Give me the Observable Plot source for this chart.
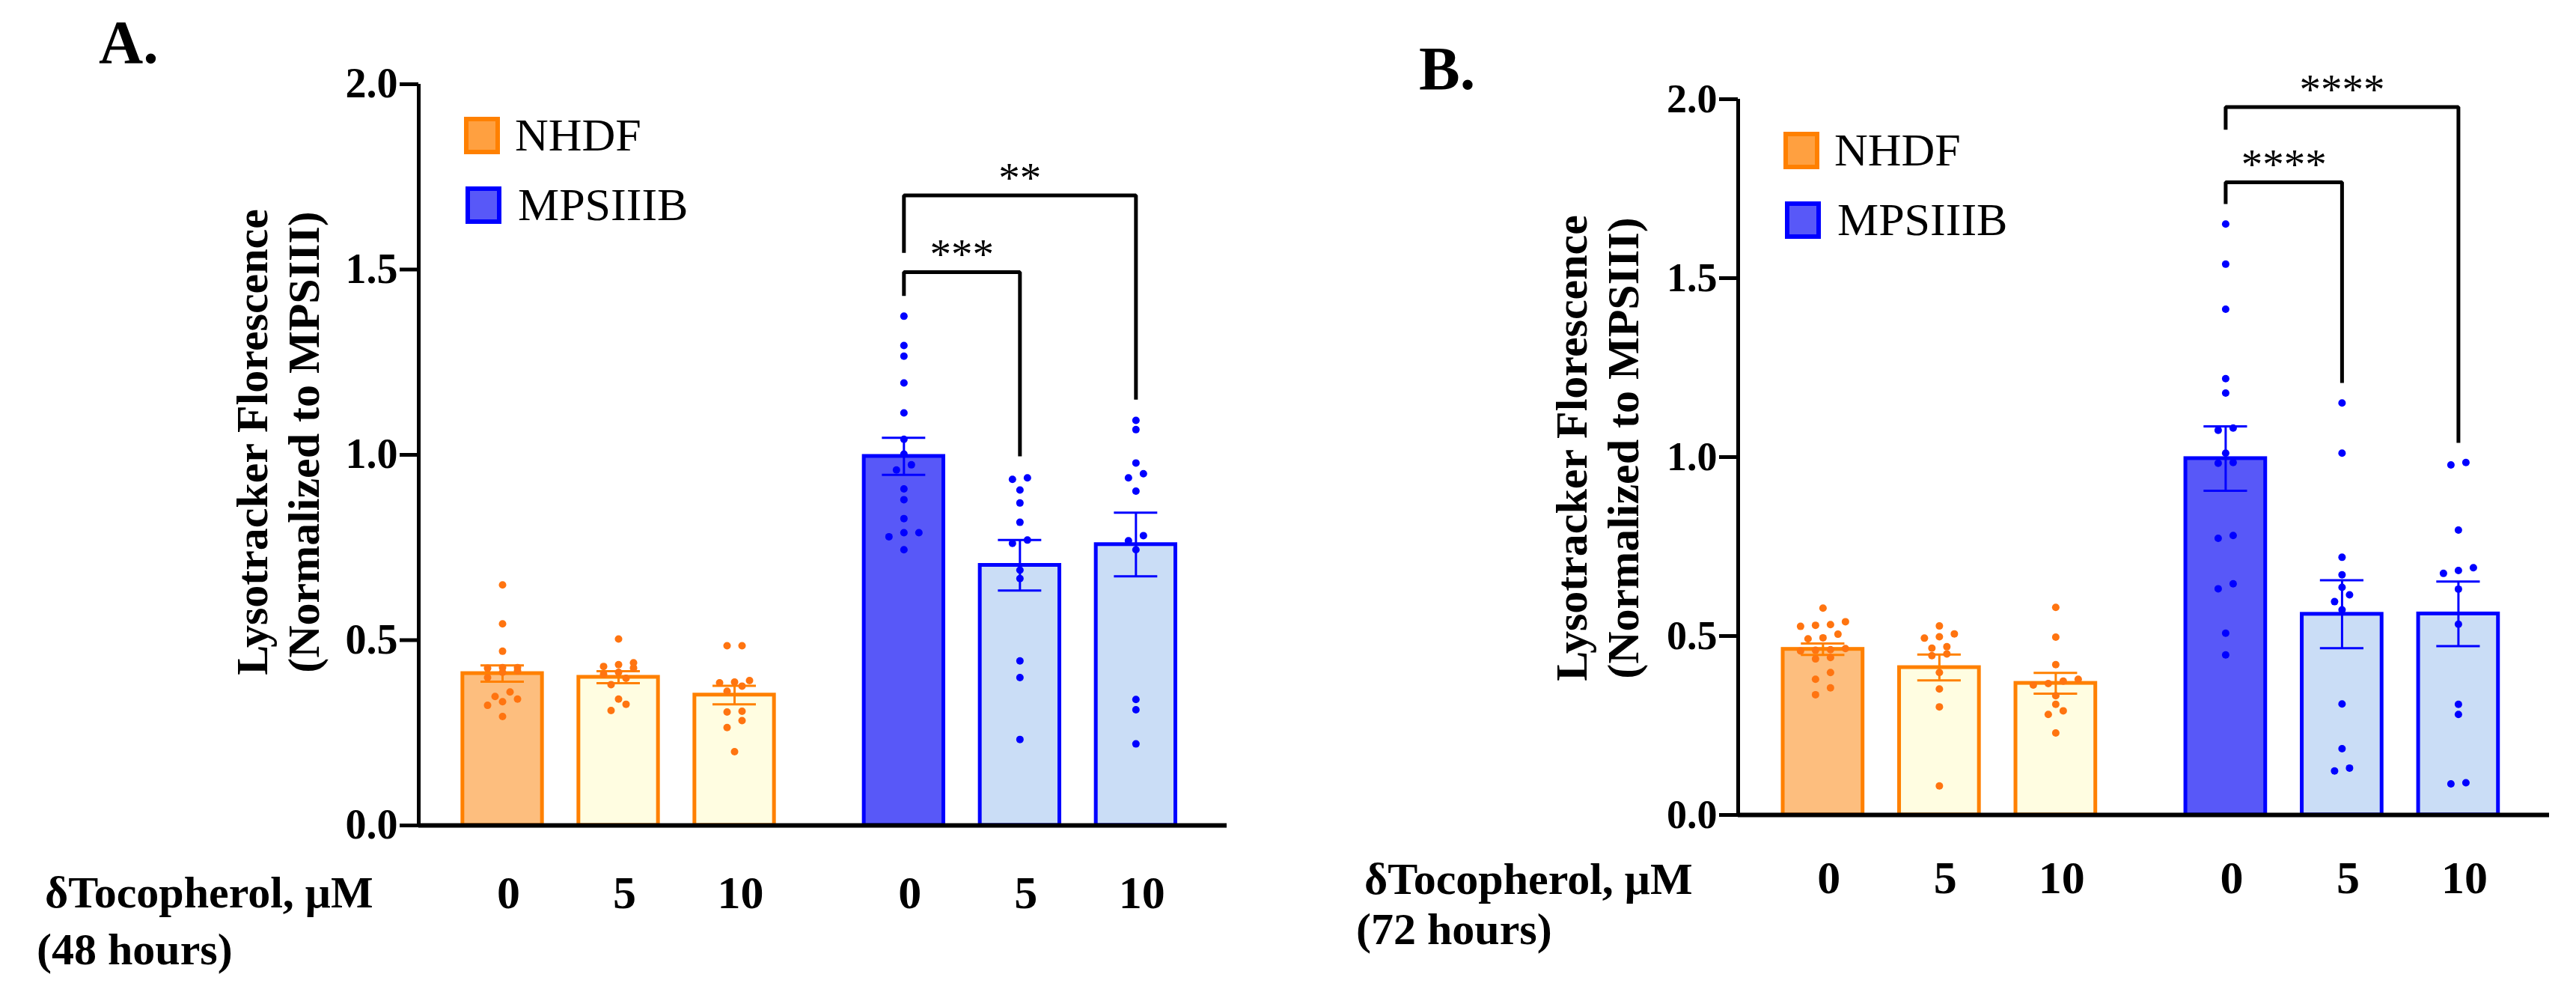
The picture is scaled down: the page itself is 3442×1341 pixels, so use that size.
<!DOCTYPE html>
<html>
<head>
<meta charset="utf-8">
<script src="https://cdn.jsdelivr.net/npm/d3@7"></script>
<script src="https://cdn.jsdelivr.net/npm/@observablehq/plot@0.6"></script>
<style>
  body { margin: 0; background: #fff; }
  #figure { position: relative; width: 3442px; height: 1341px; background: #fff;
            font-family: "Liberation Serif", "Times New Roman", serif; }
  .panel { position: absolute; top: 0; width: 1721px; height: 1341px; }
  .panel svg { position: absolute; left: 0; top: 0; }
  .abs { position: absolute; white-space: nowrap; color: #000; }
  .swatch { position: absolute; box-sizing: border-box; width: 48px; height: 50px; border: 6px solid; }
</style>
</head>
<body>
<div id="figure"></div>
<script>
// ---- shared categories and labels ----
const cellLines = ["NHDF", "MPSIIIB"];
const doses = ["0", "5", "10"];
const yTicks = [0, 0.5, 1.0, 1.5, 2.0];
const yTitle = "Lysotracker Florescence\n(Normalized to MPSIII)";
const treatmentLabel = "δTocopherol, μM";

// ---- panel A: 48 hours (bar order: NHDF 0,5,10 then MPSIIIB 0,5,10) ----
const mean48 = [0.410, 0.400, 0.352, 0.996, 0.702, 0.758];
const sem48  = [0.022, 0.016, 0.025, 0.050, 0.068, 0.086];
const nhdf48_0  = [0.649, 0.544, 0.470, 0.426, 0.426, 0.413, 0.424, 0.417, 0.399, 0.341, 0.348, 0.360, 0.324, 0.334, 0.294];
const nhdf48_5  = [0.503, 0.434, 0.439, 0.425, 0.429, 0.408, 0.413, 0.397, 0.380, 0.341, 0.327, 0.310];
const nhdf48_10 = [0.485, 0.485, 0.391, 0.376, 0.385, 0.387, 0.362, 0.308, 0.306, 0.283, 0.264, 0.199];
const mps48_0   = [1.374, 1.295, 1.266, 1.194, 1.113, 1.042, 1.002, 0.973, 0.959, 0.908, 0.879, 0.828, 0.790, 0.790, 0.779, 0.744];
const mps48_5   = [0.938, 0.934, 0.905, 0.870, 0.818, 0.770, 0.761, 0.689, 0.666, 0.444, 0.399, 0.232];
const mps48_10  = [1.093, 1.068, 0.978, 0.938, 0.949, 0.902, 0.768, 0.782, 0.744, 0.340, 0.312, 0.220];
// significance vs MPSIIIB 0 µM
const sig48Label = ["***", "**"];
const sig48To    = ["5", "10"];
const sig48Top   = [1.493, 1.700];
const sig48FromEnd = [1.429, 1.545];
const sig48ToEnd   = [0.996, 1.149];

// ---- panel B: 72 hours ----
const mean72 = [0.463, 0.412, 0.368, 0.996, 0.561, 0.562];
const sem72  = [0.016, 0.036, 0.029, 0.090, 0.095, 0.090];
const nhdf72_0  = [0.578, 0.540, 0.530, 0.532, 0.527, 0.492, 0.495, 0.505, 0.462, 0.458, 0.465, 0.460, 0.436, 0.440, 0.398, 0.379, 0.355, 0.336];
const nhdf72_5  = [0.528, 0.506, 0.494, 0.498, 0.470, 0.466, 0.450, 0.445, 0.398, 0.352, 0.302, 0.081];
const nhdf72_10 = [0.580, 0.497, 0.420, 0.374, 0.363, 0.367, 0.379, 0.333, 0.309, 0.291, 0.281, 0.229];
const mps72_0   = [1.651, 1.539, 1.413, 1.219, 1.179, 1.075, 1.081, 1.011, 0.983, 0.985, 0.773, 0.781, 0.632, 0.646, 0.508, 0.447];
const mps72_5   = [1.151, 1.011, 0.720, 0.671, 0.636, 0.615, 0.596, 0.573, 0.310, 0.185, 0.123, 0.131];
const mps72_10  = [0.985, 0.978, 0.796, 0.683, 0.675, 0.691, 0.631, 0.533, 0.309, 0.281, 0.087, 0.090];
const sig72Label = ["****", "****"];
const sig72To    = ["5", "10"];
const sig72Top   = [1.768, 1.978];
const sig72FromEnd = [1.707, 1.915];
const sig72ToEnd   = [1.207, 1.040];

// ---- styling ----
const SERIF = '"Liberation Serif", "Times New Roman", serif';
const ORANGE = "#FF8000", BLUE = "#0000FF";
const lineColor = cell => cell === "NHDF" ? ORANGE : BLUE;
const dotColor = cell => cell === "NHDF" ? "#FF7410" : BLUE;
const barFill = (cell, dose) => cell === "NHDF"
  ? (dose === "0" ? "#FDBE7E" : "#FFFDE1")
  : (dose === "0" ? "#5858F8" : "#CADDF6");
const GROUP_STEP = 3.46;   // distance between the first bars of the two cell lines (in bar steps)
const BAR_HALF = 0.343;    // half bar width, in bar steps
const CAP_HALF = 0.187;    // half error-cap width, in bar steps

// Symmetric dot swarm: values close in y share a row and are spread around the bar centre.
function swarm(values, pxPerY, spacingPx = 20, tolPx = 10) {
  const sorted = values.slice().sort((a, b) => a - b);
  const out = [];
  let row = [];
  const flush = () => {
    row.forEach((v, k) => out.push({v, offPx: (k - (row.length - 1) / 2) * spacingPx}));
    row = [];
  };
  for (const v of sorted) {
    if (row.length && (v - row[0]) * pxPerY > tolPx) flush();
    row.push(v);
  }
  flush();
  return out;
}

function textAt(parent, text, {left, baseline, size, weight = "bold"}) {
  const el = document.createElement("div");
  el.className = "abs";
  el.textContent = text;
  Object.assign(el.style, {
    left: left + "px", top: (baseline - 0.8375 * size) + "px",
    fontSize: size + "px", lineHeight: size + "px", fontWeight: weight, fontFamily: SERIF
  });
  parent.appendChild(el);
}

function drawPanel(cfg) {
  const W = 1721, H = 1341;
  const {mL, mR, mT, mB, xDomain} = cfg;
  const pxPerY = (H - mT - mB) / 2;
  const pxPerX = (W - mL - mR) / (xDomain[1] - xDomain[0]);
  const posOf = (g, d) => g * GROUP_STEP + d;

  const bars = [];
  cellLines.forEach((cell, g) => doses.forEach((dose, d) => {
    const i = g * doses.length + d;
    bars.push({cell, dose, pos: posOf(g, d), mean: cfg.means[i], sem: cfg.sems[i], pts: cfg.points[i]});
  }));

  const dots = bars.flatMap(b => swarm(b.pts, pxPerY).map(p => ({cell: b.cell, y: p.v, x: b.pos + p.offPx / pxPerX})));

  const mpsPos = dose => bars.find(b => b.cell === "MPSIIIB" && b.dose === dose).pos;
  const sig = cfg.sigLabel.map((label, k) => ({
    id: k, label, from: mpsPos("0"), to: mpsPos(cfg.sigTo[k]),
    top: cfg.sigTop[k], fromEnd: cfg.sigFromEnd[k], toEnd: cfg.sigToEnd[k]
  }));
  const bracketPts = sig.flatMap(s => [
    {id: s.id, x: s.from, y: s.fromEnd}, {id: s.id, x: s.from, y: s.top},
    {id: s.id, x: s.to, y: s.top}, {id: s.id, x: s.to, y: s.toEnd}
  ]);

  const svg = Plot.plot({
    width: W, height: H,
    marginLeft: mL, marginRight: mR, marginTop: mT, marginBottom: mB,
    x: {domain: xDomain, axis: null},
    y: {domain: [0, 2], axis: null},
    color: {type: "identity"},
    style: {fontFamily: SERIF, background: "transparent", color: "#000", overflow: "visible"},
    marks: [
      Plot.rect(bars, {
        x1: b => b.pos - BAR_HALF, x2: b => b.pos + BAR_HALF, y1: 0, y2: "mean",
        fill: b => barFill(b.cell, b.dose), stroke: b => lineColor(b.cell), strokeWidth: 5
      }),
      Plot.ruleX(bars, {x: "pos", y1: b => b.mean - b.sem, y2: b => b.mean + b.sem, stroke: b => lineColor(b.cell), strokeWidth: 3}),
      Plot.ruleY(bars, {y: b => b.mean + b.sem, x1: b => b.pos - CAP_HALF, x2: b => b.pos + CAP_HALF, stroke: b => lineColor(b.cell), strokeWidth: 3}),
      Plot.ruleY(bars, {y: b => b.mean - b.sem, x1: b => b.pos - CAP_HALF, x2: b => b.pos + CAP_HALF, stroke: b => lineColor(b.cell), strokeWidth: 3}),
      Plot.dot(dots, {x: "x", y: "y", r: 5, fill: d => dotColor(d.cell), stroke: null}),
      Plot.ruleY([0], {strokeWidth: 6, stroke: "#000"}),
      Plot.ruleX([xDomain[0]], {y1: 0, y2: 2, strokeWidth: 5, stroke: "#000"}),
      Plot.axisY({
        ticks: yTicks, tickFormat: d3.format(".1f"), tickSize: 25, tickPadding: 3,
        strokeWidth: 5, fontSize: cfg.tickFont, fontWeight: "bold", fill: "#000"
      }),
      Plot.text(bars, {
        x: "pos", text: "dose", frameAnchor: "bottom", lineAnchor: "bottom",
        dy: cfg.doseDy, dx: 8, fontSize: 62, fontWeight: "bold", fill: "#000"
      }),
      Plot.line(bracketPts, {x: "x", y: "y", z: "id", stroke: "#000", strokeWidth: 5, strokeLinejoin: "miter", strokeLinecap: "butt"}),
      Plot.text(sig, {
        x: s => (s.from + s.to) / 2, y: "top", text: "label", lineAnchor: "bottom",
        dy: -4, fontSize: 57, fill: "#000"
      }),
      Plot.text([yTitle], {
        text: d => d, frameAnchor: "left", textAnchor: "middle", rotate: -90, lineHeight: 1.15,
        dx: -190, dy: cfg.titleDy, fontSize: 60, fontWeight: "bold", fill: "#000"
      })
    ]
  });

  const panel = document.createElement("div");
  panel.className = "panel";
  panel.style.left = cfg.left + "px";
  panel.appendChild(svg);

  // panel letter
  textAt(panel, cfg.letter, {left: cfg.letterLeft, baseline: cfg.letterBase, size: 82});

  // legend
  const lx = mL + 61, ly = mT + 44;
  [["NHDF", "#FFA040", ORANGE], ["MPSIIIB", "#5858F8", BLUE]].forEach(([name, fill, border], k) => {
    const sw = document.createElement("div");
    sw.className = "swatch";
    Object.assign(sw.style, {left: (lx + k * 2) + "px", top: (ly + k * 93) + "px", background: fill, borderColor: border});
    panel.appendChild(sw);
    textAt(panel, name, {left: lx + 68 + k * 4, baseline: ly + 45 + k * 93, size: 62, weight: "normal"});
  });

  // treatment label rows
  textAt(panel, treatmentLabel, {left: mL - 499, baseline: cfg.treatBase, size: 60});
  textAt(panel, cfg.duration, {left: mL - 510, baseline: cfg.durBase, size: 60});

  document.getElementById("figure").appendChild(panel);
}

drawPanel({
  left: 0, letter: "A.", letterLeft: 132, letterBase: 85,
  mL: 559, mR: 82, mT: 112, mB: 239, xDomain: [-0.7226, 6.245],
  means: mean48, sems: sem48,
  points: [nhdf48_0, nhdf48_5, nhdf48_10, mps48_0, mps48_5, mps48_10],
  sigLabel: sig48Label, sigTo: sig48To, sigTop: sig48Top, sigFromEnd: sig48FromEnd, sigToEnd: sig48ToEnd,
  tickFont: 56, doseDy: 110, titleDy: -17,
  duration: "(48 hours)", treatBase: 1212, durBase: 1288
});

drawPanel({
  left: 1721, letter: "B.", letterLeft: 175, letterBase: 120,
  mL: 601, mR: 36, mT: 132, mB: 253, xDomain: [-0.729, 6.242],
  means: mean72, sems: sem72,
  points: [nhdf72_0, nhdf72_5, nhdf72_10, mps72_0, mps72_5, mps72_10],
  sigLabel: sig72Label, sigTo: sig72To, sigTop: sig72Top, sigFromEnd: sig72FromEnd, sigToEnd: sig72ToEnd,
  tickFont: 54, doseDy: 104, titleDy: -12,
  duration: "(72 hours)", treatBase: 1194, durBase: 1261
});
</script>
</body>
</html>
